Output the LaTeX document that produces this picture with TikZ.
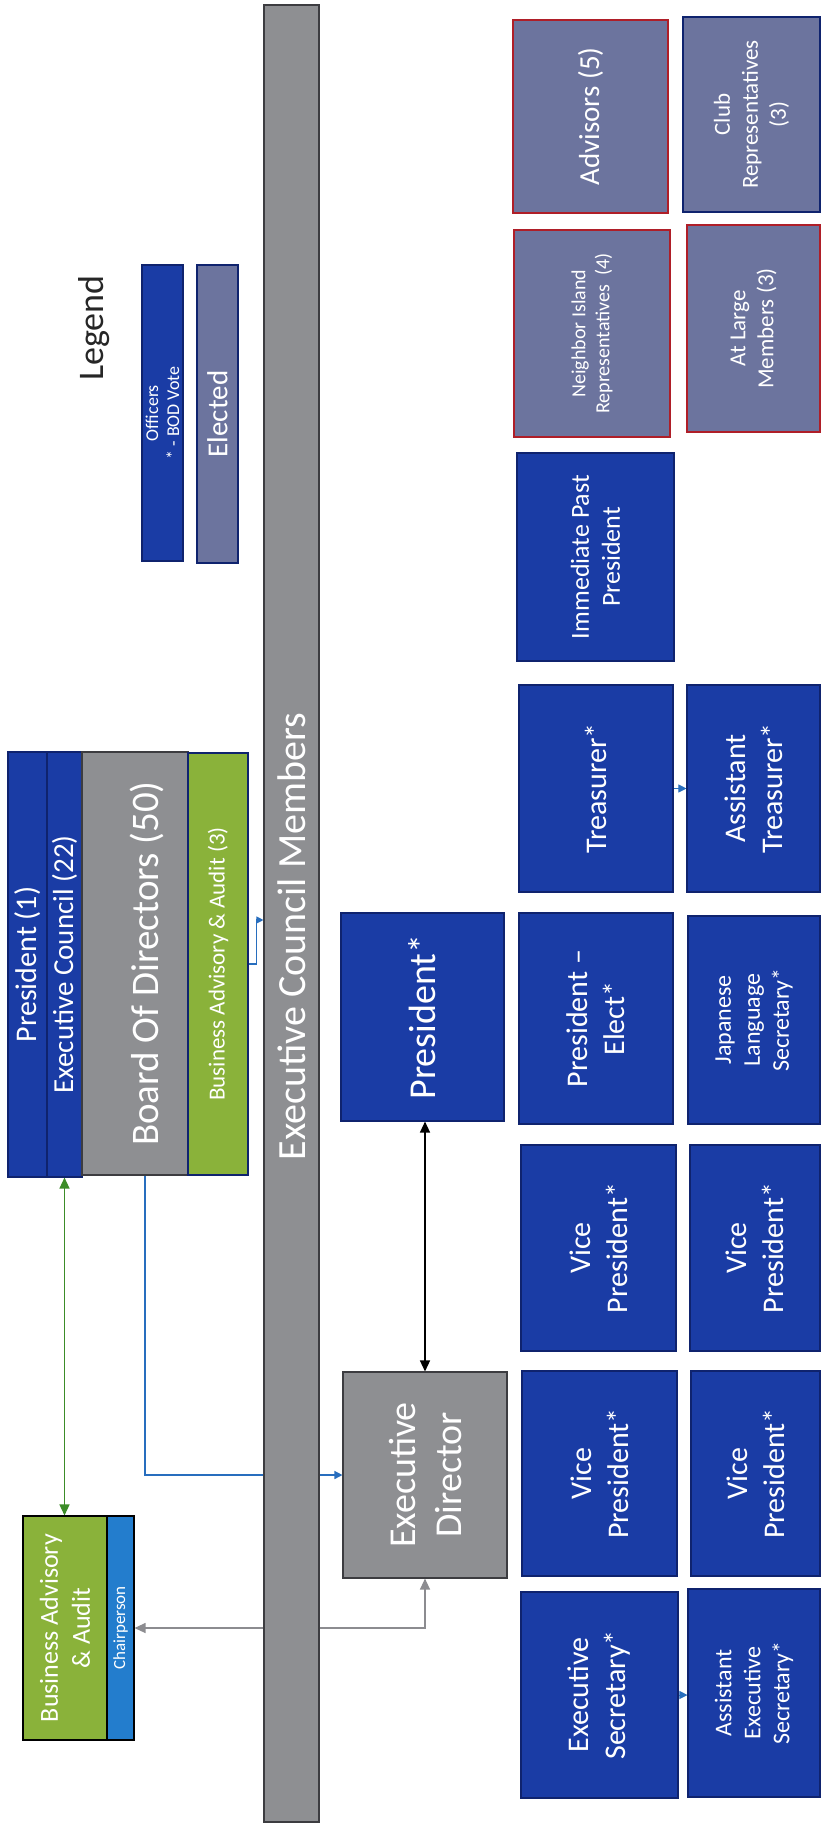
\documentclass[tikz,border=0pt]{standalone}
\usepackage{fontspec}
\setmainfont{Carlito}
\usetikzlibrary{arrows.meta,backgrounds}
\definecolor{navy}{RGB}{26,60,165}
\definecolor{navyD}{RGB}{15,35,110}
\definecolor{slate}{RGB}{108,116,158}
\definecolor{redB}{RGB}{175,30,40}
\definecolor{grayF}{RGB}{142,143,146}
\definecolor{grayD}{RGB}{60,60,64}
\definecolor{greenF}{RGB}{138,178,58}
\definecolor{chairB}{RGB}{35,125,205}
\definecolor{lineB}{RGB}{40,110,190}
\definecolor{lineG}{RGB}{60,140,40}
\definecolor{lineGr}{RGB}{140,140,144}
\tikzset{
  rbox/.style={rotate=90, inner sep=0pt, align=center, text=white, line width=1.1pt},
  sz/.style 2 args={minimum height=#1, minimum width=#2},
  officer/.style={rbox, draw=navyD, fill=navy},
  elected/.style={rbox, draw=redB, fill=slate},
  electedN/.style={rbox, draw=navyD, fill=slate},
  grayB/.style={rbox, draw=grayD, fill=grayF},
  fA/.style={font=\fontsize{30}{37}\selectfont},
  fB/.style={font=\fontsize{24}{29}\selectfont},
  arrB/.style={-{Triangle[length=8pt,width=8pt]}},
  arrD/.style={{Triangle[length=11pt,width=10pt]}-{Triangle[length=11pt,width=10pt]}}
}
\begin{document}
\begin{tikzpicture}[x=1pt,y=-1pt]
\useasboundingbox (0,0) rectangle (833,1827);
% bar
\node[grayB, sz={55pt}{1817pt}, font=\fontsize{40}{46}\selectfont] (bar) at (291.5,913.5) {Executive Council Members\hspace*{46pt}};
% top-left block
\node[officer, sz={39pt}{425pt}, font=\fontsize{30}{36}\selectfont] (pres) at (27.5,964.5) {President (1)};
\node[officer, sz={35pt}{425pt}, font=\fontsize{29}{35}\selectfont] (exc) at (64.5,964.5) {Executive Council (22)};
\node[grayB, sz={106pt}{423pt}, font=\fontsize{39}{46}\selectfont] (bod) at (135,963.5) {\rule{0pt}{52pt}Board Of Directors (50)};
\node[rbox, draw=navyD, fill=greenF, sz={60pt}{422pt}, font=\fontsize{23}{28}\selectfont] (baa3) at (218,964) {Business Advisory \& Audit (3)};
% business advisory
\node[rbox, draw=black, fill=greenF, sz={84pt}{224pt}, font=\fontsize{26}{32}\selectfont] (baa) at (65,1628) {Business Advisory\\\& Audit};
\node[rbox, draw=black, fill=chairB, sz={27pt}{224pt}, font=\fontsize{17}{20}\selectfont] (chair) at (120.5,1628) {Chairperson};
% legend
\node[rotate=90, text=black!85, inner sep=0pt, font=\fontsize{36}{42}\selectfont] (leg) at (94,328) {Legend};
\node[officer, sz={41pt}{296pt}, font=\fontsize{18}{21}\selectfont] (lo) at (162.5,413) {Officers\\* - BOD Vote};
\node[rbox, draw=navyD, fill=slate, sz={41pt}{298pt}, font=\fontsize{29}{34}\selectfont] (le) at (217.5,414) {Elected};
% middle
\node[officer, sz={163pt}{208pt}, font=\fontsize{38}{46}\selectfont] (pstar) at (422.5,1017) {President*};
\node[grayB, sz={164pt}{206pt}, font=\fontsize{38}{46}\selectfont] (ed) at (425,1475) {Executive\\Director};
% column 1
\node[elected, sz={155pt}{193pt}, font=\fontsize{29}{34}\selectfont] (adv) at (590.5,116.5) {Advisors (5)};
\node[elected, sz={156pt}{207pt}, font=\fontsize{20}{24}\selectfont] (nir) at (592,333.5) {Neighbor Island\\Representatives\ \ (4)};
\node[officer, sz={157pt}{208pt}, font=\fontsize{26}{31}\selectfont] (ipp) at (595.5,557) {Immediate Past\\President};
\node[officer, sz={154pt}{207pt}, fA] (tre) at (596,788.5) {Treasurer*};
\node[officer, sz={154pt}{211pt}, fA] (pel) at (596,1018.5) {President --\\Elect*};
\node[officer, sz={155pt}{206pt}, fA] (vp1) at (598.5,1248) {Vice\\President*};
\node[officer, sz={155pt}{205pt}, fA] (vp2) at (599.5,1473.5) {Vice\\President*};
\node[officer, sz={157pt}{206pt}, fA] (es) at (599.5,1695) {Executive\\Secretary*};
% column 2
\node[electedN, sz={137pt}{195pt}, font=\fontsize{23}{28}\selectfont] (club) at (751.5,114.5) {Club\\Representatives\\(3)};
\node[elected, sz={133pt}{207pt}, font=\fontsize{23}{28}\selectfont] (alm) at (753.5,328.5) {At Large\\Members (3)};
\node[officer, sz={133pt}{207pt}, fA] (atr) at (753.5,788.5) {Assistant\\Treasurer*};
\node[officer, sz={132pt}{208pt}, fB] (jls) at (754,1020) {Japanese\\Language\\Secretary*};
\node[officer, sz={130pt}{206pt}, fA] (vp3) at (755,1248) {Vice\\President*};
\node[officer, sz={129pt}{205pt}, fA] (vp4) at (755.5,1473.5) {Vice\\President*};
\node[officer, sz={132pt}{208pt}, fB] (aes) at (754,1693) {Assistant\\Executive\\Secretary*};
\coordinate (k1) at (0,920);
% connectors
\begin{pgfonlayer}{background}
\fill[white] (0,0) rectangle (833,1827);
\draw[lineG, line width=1.4pt, arrD] (exc.west) -- (exc.west |- baa.east);
\draw[lineB, line width=1.4pt, arrB] ([xshift=10pt]bod.west) |- (ed.north);
\draw[black, line width=1.4pt, arrD] (ed.east) -- (ed.east |- pstar.west);
\draw[lineGr, line width=1.2pt, arrD] (ed.west) |- (chair.south);
\draw[lineB, line width=1.1pt, -{Triangle[length=7pt,width=7pt]}] (baa3.south) -- ++(8,0) |- (bar.north |- k1);
\draw[lineB, line width=1pt, arrB] (tre.south) -- (atr.north);
\draw[lineB, line width=1pt, arrB] (es.south) -- (es.south -| aes.north);
\end{pgfonlayer}
\end{tikzpicture}
\end{document}
